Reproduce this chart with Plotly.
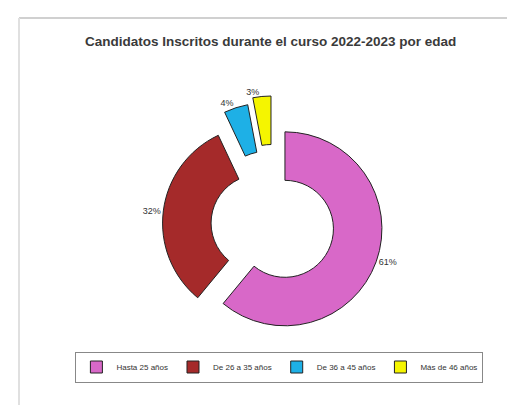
import plotly.graph_objects as go

# Data
labels = ["Hasta 25 años", "De 26 a 35 años", "De 36 a 45 años", "Más de 46 años"]
values = [61, 32, 4, 3]
colors = ["#D868C8", "#A52A2A", "#1EB0E6", "#F5F500"]
pulls = [0.12, 0.15, 0.27, 0.33]

title_text = "Candidatos Inscritos durante el curso 2022-2023 por edad"

W, H = 515, 405

fig = go.Figure()
fig.add_trace(go.Pie(
    labels=labels,
    values=values,
    sort=False,
    direction="clockwise",
    rotation=0,
    hole=0.5,
    pull=pulls,
    marker=dict(colors=colors, line=dict(color="#222222", width=1)),
    textinfo="percent",
    textposition="outside",
    textfont=dict(family="Liberation Sans Narrow, Arial Narrow, Arial", size=9, color="#333333"),
    domain=dict(x=[0.266, 0.767], y=[0.146, 0.783]),
    hoverinfo="label+percent",
))

fig.update_layout(
    width=W, height=H,
    margin=dict(l=0, r=0, t=0, b=0),
    paper_bgcolor="white",
    plot_bgcolor="white",
    title=dict(
        text="<b>" + title_text + "</b>",
        x=0.51, xanchor="center",
        y=1 - 33 / H, yanchor="middle",
        font=dict(family="Liberation Sans, Arial", size=13.5, color="#3a3a3a"),
    ),
    showlegend=True,
    legend=dict(
        orientation="h",
        x=0.527, xanchor="center",
        y=1 - 359 / H, yanchor="middle",
        bordercolor="#888888", borderwidth=1,
        bgcolor="white",
        font=dict(family="Liberation Sans Narrow, Arial Narrow, Arial", size=8, color="#333333"),
        itemwidth=30,
        traceorder="normal",
    ),
    shapes=[
        dict(type="line", xref="paper", yref="paper",
             x0=11 / W, x1=1, y0=1 - 10 / H, y1=1 - 10 / H,
             line=dict(color="#d0d0d0", width=2)),
        dict(type="line", xref="paper", yref="paper",
             x0=11 / W, x1=11 / W, y0=0, y1=1 - 10 / H,
             line=dict(color="#e0e0e0", width=2)),
    ],
)

fig.write_html("out.html")
